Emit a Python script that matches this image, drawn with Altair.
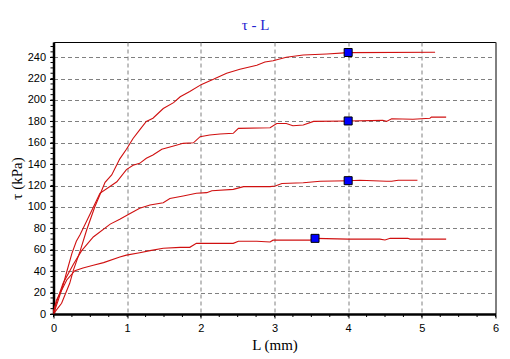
import altair as alt
import pandas as pd

# ---- data ----
c1_x = [0, 0.02, 0.11, 0.22, 0.27, 0.36, 0.45, 0.56, 0.64, 0.70, 0.79, 0.90, 0.99, 1.08, 1.17, 1.26, 1.35,
        1.49, 1.63, 1.72, 1.85, 2.01, 2.17, 2.35, 2.53, 2.76, 2.87, 2.98, 3.16, 3.39, 3.71, 4.0, 5.18]
c1_y = [0, 2, 10, 28.7, 41, 58.5, 78.5, 100, 113, 123, 130, 145, 154, 164, 172, 180, 183,
        192, 197.5, 203, 208, 214.6, 219.3, 225, 228.7, 232.5, 235.5, 236.7, 240, 242, 243, 244.3, 244.6]

c2_x = [0, 0.065, 0.13, 0.18, 0.25, 0.31, 0.36, 0.50, 0.63, 0.86, 0.99, 1.08, 1.17, 1.26, 1.35, 1.47,
        1.63, 1.76, 1.90, 1.99, 2.12, 2.26, 2.44, 2.51, 2.94, 3.03, 3.16, 3.25, 3.39, 3.53, 4.0, 4.47,
        4.52, 4.59, 4.88, 5.11, 5.13, 5.33]
c2_y = [0, 13, 27, 39.5, 56.7, 68, 74, 94, 112.8, 123.6, 135, 139, 140.8, 145.5, 148.6, 154,
        157, 159.5, 160, 165.7, 167.3, 168.2, 168.9, 173.5, 174, 178, 178, 176, 176.6, 180, 180.4, 181,
        180, 182.5, 182, 183, 184, 184]

c3_x = [0, 0.065, 0.13, 0.27, 0.38, 0.54, 0.77, 0.90, 1.04, 1.17, 1.31, 1.49, 1.58, 1.76, 1.94, 2.08,
        2.15, 2.44, 2.58, 2.94, 3.01, 3.10, 3.39, 3.62, 4.0, 4.16, 4.52, 4.59, 4.68, 4.94]
c3_y = [2, 16, 28.7, 46.5, 59, 72, 84, 88.5, 94, 98.8, 101.9, 104, 108, 110.3, 112.8, 113.4,
        115.2, 116.5, 119, 119, 119.6, 122, 122.7, 124, 124.6, 125, 124, 124, 125, 125]

c4_x = [0, 0.04, 0.09, 0.18, 0.29, 0.40, 0.54, 0.68, 0.90, 0.99, 1.17, 1.31, 1.49, 1.72, 1.85, 1.94, 2.44,
        2.51, 2.76, 2.94, 2.98, 3.48, 3.55, 4.0, 4.43, 4.5, 4.57, 4.81, 4.84, 5.33]
c4_y = [2, 13, 19.3, 31.8, 40.5, 43, 45.5, 48, 53.3, 55, 57.3, 59.2, 61.4, 62.3, 62.3, 66, 66,
        68, 68, 67.3, 69, 69, 70.7, 70, 70, 69.2, 70.7, 70.7, 70, 70]

marker_x = [4.0, 4.0, 4.0, 3.55]
marker_y = [244.4, 180.4, 124.6, 70.7]

x_ticks = [0, 1, 2, 3, 4, 5, 6]
y_ticks = [0, 20, 40, 60, 80, 100, 120, 140, 160, 180, 200, 220, 240]
x_minor = [i * 0.25 for i in range(25)]
y_minor = [i * 5 for i in range(51)]

# ---- tables ----
rows = []
for name, xs, ys in [("c1", c1_x, c1_y), ("c2", c2_x, c2_y), ("c3", c3_x, c3_y), ("c4", c4_x, c4_y)]:
    for i, (a, b) in enumerate(zip(xs, ys)):
        rows.append({"curve": name, "order": i, "L": a, "tau": b})
curves = pd.DataFrame(rows)
markers = pd.DataFrame({"L": marker_x, "tau": marker_y})
xminor = pd.DataFrame({"L": x_minor})
yminor = pd.DataFrame({"tau": y_minor})

W, H = 442, 272
xscale = alt.Scale(domain=[0, 6], nice=False, zero=False)
yscale = alt.Scale(domain=[0, 254.2], nice=False, zero=False)

xaxis = alt.Axis(values=x_ticks, title="L (mm)", grid=True, gridDash=[4, 3], gridColor="#808080",
                 gridOpacity=1, labelFont="Liberation Sans", labelFontSize=11, labelColor="#000",
                 labelFlush=False, labelPadding=4, tickColor="#000", tickSize=4, domainColor="#000",
                 domainWidth=2.5, titleFont="Liberation Serif", titleFontSize=15, titleFontWeight="normal",
                 titleColor="#000", titlePadding=4, format="d")
yaxis = alt.Axis(values=y_ticks, title="τ (kPa)", grid=True, gridDash=[4, 3], gridColor="#808080",
                 gridOpacity=1, labelFont="Liberation Sans", labelFontSize=11, labelColor="#000",
                 labelFlush=False, labelPadding=4, tickColor="#000", tickSize=4, domainColor="#000",
                 domainWidth=2.5, titleFont="Liberation Serif", titleFontSize=15, titleFontWeight="normal",
                 titleColor="#000", titlePadding=3, format="d")

lines = alt.Chart(curves).mark_line(color="#d01010", strokeWidth=1.1).encode(
    x=alt.X("L:Q", scale=xscale, axis=xaxis),
    y=alt.Y("tau:Q", scale=yscale, axis=yaxis),
    detail="curve:N",
    order="order:Q",
)

pts = alt.Chart(markers).mark_square(size=64, color="#0000ff", stroke="#000", strokeWidth=1, opacity=1).encode(
    x=alt.X("L:Q", scale=xscale, axis=xaxis),
    y=alt.Y("tau:Q", scale=yscale, axis=yaxis),
)

xmin_r = alt.Chart(xminor).mark_rule(color="#000", strokeWidth=1).encode(
    x=alt.X("L:Q", scale=xscale, axis=xaxis),
    y=alt.value(H),
    y2=alt.value(H + 3),
)
ymin_r = alt.Chart(yminor).mark_rule(color="#000", strokeWidth=1).encode(
    y=alt.Y("tau:Q", scale=yscale, axis=yaxis),
    x=alt.value(-3),
    x2=alt.value(0),
)

chart = alt.layer(lines, xmin_r, ymin_r, pts).properties(
    width=W,
    height=H,
    title=alt.TitleParams(text="τ - L", font="Liberation Serif", fontSize=15, fontWeight="normal",
                          color="#2323d0", anchor="middle", dx=-19, offset=9),
    autosize=alt.AutoSizeParams(type="none"),
    padding={"left": 45.5, "top": 34, "right": 5, "bottom": 45},
).configure_view(stroke="#000", strokeWidth=1)

chart.save("out.html", embed_options={"renderer": "svg", "actions": False})
